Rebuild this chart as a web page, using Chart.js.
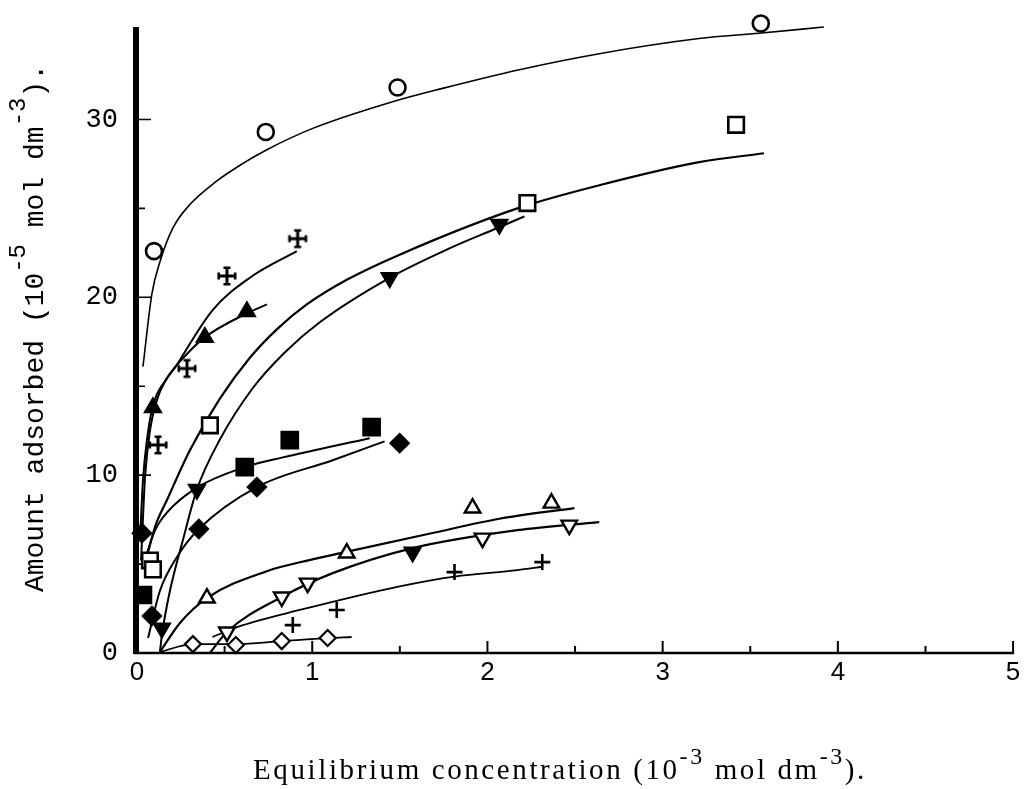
<!DOCTYPE html>
<html>
<head>
<meta charset="utf-8">
<title>Adsorption isotherms</title>
<script src="https://cdn.jsdelivr.net/npm/chart.js@4.4.1/dist/chart.umd.min.js"></script>
<style>
  html, body { margin: 0; padding: 0; background: #fff; }
  canvas { display: block; }
</style>
</head>
<body>
<canvas id="isothermChart" width="1027" height="789"></canvas>
<script>
// values
// x: equilibrium concentration (10^-3 mol dm^-3), y: amount adsorbed (10^-5 mol dm^-3)
const xTicks = [0, 0.5, 1, 1.5, 2, 2.5, 3, 3.5, 4, 4.5, 5];
const yTicks = [0, 5, 10, 15, 20, 25, 30];

// open circles
const circlePts = [[0.097, 22.6], [0.735, 29.3], [1.487, 31.8], [3.56, 35.4]];
const circleFit = [[0.034, 16.1], [0.085, 20.2], [0.131, 22.0], [0.205, 23.9], [0.3, 25.2], [0.45, 26.5],
  [0.6, 27.5], [0.741, 28.3], [1.003, 29.5], [1.459, 31.0], [1.744, 31.75], [2.182, 32.8], [2.638, 33.7],
  [3.208, 34.55], [3.55, 34.85], [3.92, 35.2]];

// open squares
const openSqPts = [[0.074, 5.2], [0.091, 4.7], [0.416, 12.8], [2.228, 25.3], [3.419, 29.7]];
const openSqFit = [[0.051, 5.2], [0.103, 7.1], [0.171, 8.6], [0.302, 11.4], [0.473, 14.3], [0.644, 16.6],
  [0.798, 18.2], [0.969, 19.6], [1.2, 21.0], [1.499, 22.4], [2.171, 25.0], [2.638, 26.3], [3.208, 27.6],
  [3.578, 28.1]];

// filled down triangles
const fillDownPts = [[0.142, 1.4], [0.342, 9.2], [1.442, 21.1], [2.068, 24.1]];
const fillDownFit = [[0.131, 0.06], [0.142, 1.0], [0.188, 3.5], [0.262, 6.35], [0.342, 9.2], [0.473, 12.0],
  [0.661, 14.9], [0.843, 16.9], [1.043, 18.6], [1.442, 21.1], [1.783, 22.75], [2.057, 23.9], [2.211, 24.55]];

// filled up triangles
const fillUpPts = [[0.091, 13.8], [0.387, 17.75], [0.627, 19.2]];
const fillUpFit = [[0.017, 6.35], [0.034, 9.7], [0.057, 12.0], [0.091, 13.9], [0.16, 15.3], [0.274, 16.7],
  [0.387, 17.75], [0.627, 19.1], [0.741, 19.6]];

// crosses with end bars
const patteePts = [[0.12, 11.7], [0.285, 16.0], [0.513, 21.2], [0.917, 23.3]];
const patteeFit = [[0.023, 5.2], [0.046, 9.9], [0.074, 12.5], [0.12, 14.4], [0.234, 16.3], [0.433, 19.3],
  [0.644, 21.1], [0.912, 22.6]];

// filled squares
const fillSqPts = [[0.034, 3.26], [0.615, 10.45], [0.872, 11.97], [1.339, 12.7]];
const fillSqFit = [[0.046, 5.2], [0.057, 5.6], [0.103, 6.9], [0.171, 7.9], [0.342, 9.3], [0.615, 10.45],
  [0.832, 11.0], [1.328, 12.08]];

// filled diamonds
const fillDiaPts = [[0.028, 6.74], [0.085, 2.08], [0.353, 6.97], [0.684, 9.33], [1.499, 11.8]];
const fillDiaFit = [[0.063, 0.84], [0.131, 3.5], [0.228, 5.4], [0.353, 6.97], [0.684, 9.33], [1.117, 10.84],
  [1.413, 11.9]];

// open up triangles
const openUpPts = [[0.399, 3.09], [1.197, 5.62], [1.915, 8.15], [2.365, 8.43]];
const openUpFit = [[0.131, 0.06], [0.245, 1.69], [0.399, 3.09], [0.741, 4.6], [0.929, 5.1], [1.2, 5.7],
  [1.687, 6.75], [2.068, 7.55], [2.496, 8.15]];

// open down triangles
const openDownPts = [[0.513, 1.18], [0.826, 3.15], [0.974, 3.93], [1.573, 5.67], [1.972, 6.46], [2.467, 7.19]];
const openDownFit = [[0.416, 0.0], [0.513, 1.18], [0.826, 3.15], [1.117, 4.49], [1.573, 5.9], [2.171, 6.91],
  [2.638, 7.36]];

// plus signs
const plusPts = [[0.889, 1.57], [1.14, 2.42], [1.812, 4.55], [2.313, 5.11]];
const plusFit = [[0.43, 0.9], [0.6, 1.55], [0.929, 2.42], [1.499, 3.75], [1.812, 4.3], [2.171, 4.66], [2.313, 4.85]];

// open diamonds
const openDiaPts = [[0.319, 0.5], [0.564, 0.45], [0.826, 0.67], [1.088, 0.84]];
const openDiaFit = [[0.131, 0.06], [0.319, 0.5], [0.564, 0.5], [0.826, 0.67], [1.088, 0.84], [1.225, 0.9]];

const toXY = pts => pts.map(([x, y]) => ({ x, y }));

// cross with short bars on its arms, used as a point image
const patteeImg = (function() {
    const c = document.createElement('canvas');
    c.width = 22;
    c.height = 22;
    const g = c.getContext('2d');
    g.strokeStyle = '#000';
    g.lineWidth = 3;
    g.beginPath();
    g.moveTo(11, 2); g.lineTo(11, 20);
    g.moveTo(2, 11); g.lineTo(20, 11);
    g.stroke();
    g.lineWidth = 2.6;
    g.beginPath();
    g.moveTo(7.5, 2.8); g.lineTo(14.5, 2.8);
    g.moveTo(7.5, 19.2); g.lineTo(14.5, 19.2);
    g.moveTo(2.8, 7.5); g.lineTo(2.8, 14.5);
    g.moveTo(19.2, 7.5); g.lineTo(19.2, 14.5);
    g.stroke();
    return c;
})();

function markerSet(label, pts, style) {
    return Object.assign({
        label: label,
        data: toXY(pts),
        showLine: false,
        borderColor: '#000',
        backgroundColor: '#fff',
        borderWidth: 2.4,
        order: 0,
        clip: false
    }, style);
}

function fitSet(label, pts, width) {
    return {
        label: label,
        data: toXY(pts),
        showLine: true,
        pointRadius: 0,
        borderColor: '#000',
        borderWidth: width || 2,
        cubicInterpolationMode: 'monotone',
        order: 1,
        clip: false
    };
}

// draws text pieces, some of them raised as superscripts
function drawParts(ctx, parts, cx, baseline, font, supFont, rise) {
    let total = 0;
    parts.forEach(p => {
        ctx.font = p[1] ? supFont : font;
        total += ctx.measureText(p[0]).width;
    });
    let pos = cx - total / 2;
    parts.forEach(p => {
        ctx.font = p[1] ? supFont : font;
        ctx.fillText(p[0], pos, p[1] ? baseline - rise : baseline);
        pos += ctx.measureText(p[0]).width;
    });
}

const axesPlugin = {
    id: 'scanAxes',
    beforeDatasetsDraw(chart) {
        const ctx = chart.ctx;
        const a = chart.chartArea;
        const xs = chart.scales.x;
        const ys = chart.scales.y;
        ctx.save();
        ctx.strokeStyle = '#000';
        ctx.lineCap = 'butt';

        // bottom axis with ticks pointing up
        ctx.lineWidth = 2.5;
        ctx.beginPath();
        ctx.moveTo(a.left - 3, a.bottom);
        ctx.lineTo(a.right + 1, a.bottom);
        ctx.stroke();
        ctx.lineWidth = 2;
        ctx.beginPath();
        xTicks.forEach(v => {
            if (v === 0) return;
            const px = xs.getPixelForValue(v);
            const len = Number.isInteger(v) ? 12 : 7;
            ctx.moveTo(px, a.bottom);
            ctx.lineTo(px, a.bottom - len);
        });
        ctx.stroke();

        // heavy left axis with ticks pointing right
        ctx.lineWidth = 6;
        ctx.beginPath();
        ctx.moveTo(a.left - 1, a.top);
        ctx.lineTo(a.left - 1, a.bottom + 1);
        ctx.stroke();
        ctx.lineWidth = 1.6;
        ctx.beginPath();
        yTicks.forEach(v => {
            if (v === 0) return;
            const py = ys.getPixelForValue(v);
            const len = v % 10 === 0 ? 14 : 8;
            ctx.moveTo(a.left, py);
            ctx.lineTo(a.left + len, py);
        });
        ctx.stroke();
        ctx.restore();
    },
    afterDraw(chart) {
        const ctx = chart.ctx;
        ctx.save();
        ctx.fillStyle = '#000';
        ctx.textBaseline = 'alphabetic';
        ctx.textAlign = 'left';

        // x title
        ctx.letterSpacing = '2.6px';
        drawParts(ctx, [['Equilibrium concentration (10', 0], ['-3', 1], [' mol dm', 0], ['-3', 1], [').', 0]],
            560, 779, '29px "Liberation Serif"', '24px "Liberation Serif"', 15);

        // y title, rotated
        ctx.letterSpacing = '0px';
        ctx.translate(43, 328);
        ctx.rotate(-Math.PI / 2);
        drawParts(ctx, [['Amount adsorbed (10', 0], ['-5', 1], [' mol dm', 0], ['-3', 1], [').', 0]],
            0, 0, '28px "Liberation Mono"', '24px "Liberation Mono"', 18);
        ctx.restore();
    }
};

const ctx = document.getElementById('isothermChart');
new Chart(ctx, {
    type: 'scatter',
    data: {
        datasets: [
            markerSet('circle', circlePts, { pointStyle: 'circle', pointRadius: 8, borderWidth: 2.6 }),
            markerSet('open square', openSqPts, { pointStyle: 'rect', pointRadius: 11, borderWidth: 2.6 }),
            markerSet('filled down', fillDownPts, { pointStyle: 'triangle', pointRotation: 180, pointRadius: 9, backgroundColor: '#000' }),
            markerSet('filled up', fillUpPts, { pointStyle: 'triangle', pointRadius: 9, backgroundColor: '#000' }),
            markerSet('pattee', patteePts, { pointStyle: patteeImg, pointRadius: 10 }),
            markerSet('filled square', fillSqPts, { pointStyle: 'rect', pointRadius: 11.5, backgroundColor: '#000' }),
            markerSet('filled diamond', fillDiaPts, { pointStyle: 'rectRot', pointRadius: 9, backgroundColor: '#000' }),
            markerSet('open up', openUpPts, { pointStyle: 'triangle', pointRadius: 9 }),
            markerSet('open down', openDownPts, {
                pointStyle: 'triangle', pointRotation: 180, pointRadius: 9,
                backgroundColor: openDownPts.map((p, i) => i === 3 ? '#000' : '#fff')
            }),
            markerSet('plus', plusPts, { pointStyle: 'cross', pointRadius: 8, borderWidth: 2.6 }),
            markerSet('open diamond', openDiaPts, { pointStyle: 'rectRot', pointRadius: 8, borderWidth: 2.2 }),

            fitSet('circle fit', circleFit, 1.6),
            fitSet('open square fit', openSqFit, 2.2),
            fitSet('filled down fit', fillDownFit, 2),
            fitSet('filled up fit', fillUpFit, 2),
            fitSet('pattee fit', patteeFit, 2),
            fitSet('filled square fit', fillSqFit, 2),
            fitSet('filled diamond fit', fillDiaFit, 2),
            fitSet('open up fit', openUpFit, 2.2),
            fitSet('open down fit', openDownFit, 2.2),
            fitSet('plus fit', plusFit, 1.8),
            fitSet('open diamond fit', openDiaFit, 1.8)
        ]
    },
    options: {
        responsive: false,
        animation: false,
        events: [],
        layout: { padding: { top: 27, right: 13, left: 0, bottom: 0 } },
        plugins: {
            legend: { display: false },
            tooltip: { enabled: false }
        },
        scales: {
            x: {
                type: 'linear',
                min: 0,
                max: 5,
                grid: { display: false, drawTicks: false },
                border: { display: false },
                afterBuildTicks: scale => { scale.ticks = xTicks.map(v => ({ value: v })); },
                afterFit: scale => {
                    scale.height = 136;
                    scale.paddingLeft = 0;
                    scale.paddingRight = 0;
                },
                ticks: {
                    padding: 4,
                    color: '#000',
                    font: { family: 'Liberation Sans', size: 26 },
                    maxRotation: 0,
                    autoSkip: false,
                    callback: v => Number.isInteger(v) ? String(v) : ''
                }
            },
            y: {
                type: 'linear',
                min: 0,
                max: 35.2,
                grid: { display: false, drawTicks: false },
                border: { display: false },
                afterBuildTicks: scale => { scale.ticks = yTicks.map(v => ({ value: v })); },
                afterFit: scale => {
                    scale.width = 137;
                    scale.paddingTop = 0;
                    scale.paddingBottom = 0;
                },
                ticks: {
                    padding: 19,
                    color: '#000',
                    font: { family: 'Liberation Mono', size: 27 },
                    autoSkip: false,
                    callback: v => v % 10 === 0 ? String(v) : ''
                }
            }
        }
    },
    plugins: [axesPlugin]
});
</script>
</body>
</html>
